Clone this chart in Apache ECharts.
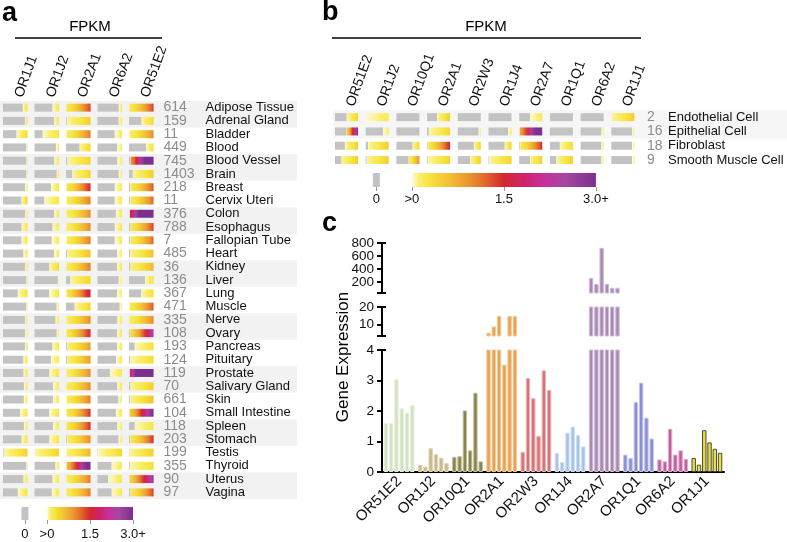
<!DOCTYPE html>
<html>
<head>
<meta charset="utf-8">
<script src="https://cdn.jsdelivr.net/npm/echarts@6/dist/echarts.min.js"></script>
<style>
  html, body { margin: 0; padding: 0; background: #fff; }
  #chart { width: 787px; height: 542px; }
</style>
</head>
<body>
<div id="chart"></div>
<script>
// ---- panel a: tissues ----
const aGenes = ['OR1J1', 'OR1J2', 'OR2A1', 'OR6A2', 'OR51E2'];
const aTissues = ['Adipose Tissue', 'Adrenal Gland', 'Bladder', 'Blood', 'Blood Vessel', 'Brain', 'Breast',
  'Cervix Uteri', 'Colon', 'Esophagus', 'Fallopian Tube', 'Heart', 'Kidney', 'Liver', 'Lung', 'Muscle',
  'Nerve', 'Ovary', 'Pancreas', 'Pituitary', 'Prostate', 'Salivary Gland', 'Skin', 'Small Intestine',
  'Spleen', 'Stomach', 'Testis', 'Thyroid', 'Uterus', 'Vagina'];
const aSamples = [614, 159, 11, 449, 745, 1403, 218, 11, 376, 788, 7, 485, 36, 136, 367, 471, 335, 108,
  193, 124, 119, 70, 661, 104, 118, 203, 199, 355, 90, 97];
// share of samples at 0 FPKM (grey part), one list per gene
const aZero = [
  [0.8, 0.9, 0.55, 0.95, 0.95, 0.95, 0.9, 0.75, 0.9, 0.75, 0.75, 0.83, 0.9, 0.95, 0.6, 0.95, 0.9, 0.9, 0.9, 0.83, 0.83, 0.85, 0.85, 0.7, 0.85, 0.75, 0.03, 0.95, 0.83, 0.6],
  [0.73, 0.8, 0.33, 0.87, 0.8, 0.9, 0.67, 0.4, 0.8, 0.73, 0.7, 0.8, 0.6, 0.95, 0.6, 0.9, 0.85, 0.9, 0.73, 0.67, 0.6, 0.75, 0.75, 0.6, 0.75, 0.6, 0, 0.85, 0.73, 0.7],
  [0, 0.03, 0, 0.55, 0.05, 0.25, 0, 0, 0, 0, 0, 0.05, 0, 0.17, 0, 0.35, 0, 0, 0.05, 0.05, 0, 0, 0, 0, 0, 0.03, 0, 0, 0, 0],
  [0.86, 0.86, 0.7, 0.8, 0.8, 0.86, 0.7, 0.7, 0.75, 0.7, 0.7, 0.8, 0.8, 0.86, 0.8, 0.9, 0.8, 0.8, 0.8, 0.75, 0.5, 0.8, 0.85, 0.75, 0.8, 0.85, 0.02, 0.57, 0.43, 0.57],
  [0, 0.5, 0, 0.7, 0.05, 0.15, 0.05, 0.05, 0.02, 0.05, 0.05, 0.05, 0.05, 0.65, 0.5, 0, 0, 0.05, 0.23, 0.05, 0.02, 0.05, 0.05, 0, 0.23, 0.05, 0.02, 0.03, 0, 0.05]
];
// highest FPKM reached in each cell
const aMax = [
  [0.3, 0.3, 0.35, 0.2, 0.2, 0.15, 0.2, 0.45, 0.2, 0.25, 0.25, 0.2, 0.25, 0.2, 0.3, 0.15, 0.2, 0.2, 0.3, 0.25, 0.25, 0.2, 0.2, 0.25, 0.2, 0.25, 0.45, 0.2, 0.25, 0.25],
  [0.25, 0.25, 0.3, 0.2, 0.2, 0.2, 0.25, 0.25, 0.2, 0.2, 0.2, 0.2, 0.4, 0.15, 0.25, 0.15, 0.2, 0.15, 0.25, 0.2, 0.25, 0.2, 0.2, 0.25, 0.2, 0.25, 0.45, 0.2, 0.2, 0.2],
  [1.4, 0.5, 1.1, 0.45, 0.45, 0.45, 1.6, 1.1, 1.0, 1.0, 1.1, 0.6, 1.1, 0.45, 1.8, 0.45, 1.0, 1.6, 0.9, 0.9, 1.0, 1.0, 1.1, 1.5, 1.5, 1.0, 0.7, 4, 1.1, 1.1],
  [0.2, 0.2, 0.2, 0.15, 0.15, 0.15, 0.2, 0.2, 0.2, 0.2, 0.2, 0.15, 0.2, 0.15, 0.15, 0.15, 0.2, 0.2, 0.2, 0.2, 0.2, 0.2, 0.15, 0.2, 0.15, 0.15, 0.4, 0.2, 0.2, 0.2],
  [1.4, 0.4, 1.0, 0.35, 6, 0.5, 1.3, 1.2, 10, 1.4, 1.2, 0.6, 0.7, 0.3, 0.35, 1.3, 1.0, 2.5, 0.3, 0.35, 12, 0.5, 0.6, 3.3, 0.25, 1.5, 0.5, 0.35, 2.8, 1.4]
];

// ---- panel b: cell types ----
const bGenes = ['OR51E2', 'OR1J2', 'OR10Q1', 'OR2A1', 'OR2W3', 'OR1J4', 'OR2A7', 'OR1Q1', 'OR6A2', 'OR1J1'];
const bCells = ['Endothelial Cell', 'Epithelial Cell', 'Fibroblast', 'Smooth Muscle Cell'];
const bSamples = [2, 16, 18, 9];
const bZero = [
  [0.5, 0.5, 0.43, 0.28], [0, 0.75, 0.1, 0.04], [1, 1, 0.7, 0.53], [0.43, 0.07, 0.03, 0.03],
  [1, 0.9, 0.7, 0.54], [1, 0.85, 0.7, 0.03], [0.47, 0, 0.03, 0.47], [1, 1, 0.43, 0.28],
  [1, 0.9, 0.9, 0.9], [0, 0.9, 0.9, 0.9]
];
const bMax = [
  [0.45, 3.2, 0.5, 0.5], [0.2, 0.15, 0.5, 0.5], [0, 0, 0.45, 1.0], [0.5, 0.4, 1.6, 0.45],
  [0, 0.15, 0.45, 0.5], [0, 0.15, 0.45, 0.45], [0.2, 5, 1.5, 0.5], [0, 0, 0.4, 0.5],
  [0, 0.15, 0.15, 0.15], [0.5, 0.15, 0.15, 0.15]
];

// colour scale legend
const cbLabels = ['0', '>0', '1.5', '3.0+'];
const cbTicksA = [-0.77, 0, 1.5, 3];
const cbTicksB = [-0.58, 0, 1.5, 3];

// ---- panel c: gene expression, 6 samples per gene ----
const cGenes = ['OR51E2', 'OR1J2', 'OR10Q1', 'OR2A1', 'OR2W3', 'OR1J4', 'OR2A7', 'OR1Q1', 'OR6A2', 'OR1J1'];
const cValues = [
  [1.6, 1.6, 3.05, 2.09, 1.95, 2.19],
  [0.24, 0.18, 0.78, 0.59, 0.47, 0.29],
  [0.5, 0.52, 2.02, 0.71, 2.6, 0.35],
  [5.5, 9, 15, 3.52, 15, 15],
  [0.66, 3.08, 2.42, 1.18, 3.33, 2.69],
  [0.63, 0.33, 1.29, 1.49, 1.21, 0.84],
  [262, 170, 725, 170, 110, 110],
  [0.57, 0.46, 2.29, 2.93, 1.78, 1.10],
  [0.41, 0.35, 1.42, 0.57, 0.71, 0.43],
  [0.46, 0.24, 1.37, 0.97, 0.76, 0.63]
];
const cColors = ['#d3e2c0', '#c9ba86', '#8a834d', '#e9a24e', '#d87277', '#a6c3e8', '#a989b6', '#8a8ed2', '#c05fa1', '#ebe02e'];
const cBorders = ['#e9f0e0', '#e0d6bd', '#c4c1a0', '#f0cc9f', '#e8b6b9', '#d3e1f2', '#cdbdd6', '#c4c6e8', '#ddaccb', '#4a4a4a'];

const FONT = '"Liberation Sans", Arial, sans-serif';
const GREY = '#c3c3c3';

// colour ramp used by the heat cells
const rampVals = [0, 0.12, 0.3, 0.55, 0.85, 1.15, 1.5, 1.85, 2.15, 2.5, 3];
const rampCols = ['#fffbe0', '#f9ee6a', '#f7e23a', '#f3c634', '#eda032', '#e4702c', '#d3282e', '#d0216e', '#c8309a', '#a5489f', '#7b2f8f'];

function mix(a, b, t) {
  const pa = [1, 3, 5].map((i) => parseInt(a.substr(i, 2), 16));
  const pb = [1, 3, 5].map((i) => parseInt(b.substr(i, 2), 16));
  return 'rgb(' + pa.map((v, j) => Math.round(v + (pb[j] - v) * t)).join(',') + ')';
}

function fpkmColor(v) {
  v = Math.max(0, Math.min(3, v));
  for (let i = 1; i < rampVals.length; i++) {
    if (v <= rampVals[i]) {
      return mix(rampCols[i - 1], rampCols[i], (v - rampVals[i - 1]) / (rampVals[i] - rampVals[i - 1]));
    }
  }
  return rampCols[rampCols.length - 1];
}

function cellFill(hi) {
  const stops = [];
  for (let k = 0; k <= 8; k++) {
    const t = k / 8;
    stops.push({ offset: t, color: fpkmColor(hi * (0.15 + 0.85 * Math.pow(t, 1.5))) });
  }
  return { type: 'linear', x: 0, y: 0, x2: 1, y2: 0, colorStops: stops };
}

function cellRenderer(widthShare) {
  return function (params, api) {
    const c = api.coord([api.value(0), api.value(1)]);
    const band = api.size([1, 1]);
    const w = band[0] * widthShare;
    const h = 8;
    const x = c[0] - band[0] / 2;
    const y = c[1] - h / 2;
    const zero = api.value(2);
    const gw = w * zero;
    const children = [];
    if (gw > 0) {
      children.push({ type: 'rect', shape: { x: x, y: y, width: gw, height: h }, style: { fill: GREY } });
    }
    if (zero < 1) {
      children.push({ type: 'rect', shape: { x: x + gw + 0.5, y: y, width: w - gw - 0.5, height: h },
        style: { fill: cellFill(api.value(3)) } });
    }
    return { type: 'group', children: children };
  };
}

function colorbarRenderer(ticks) {
  return function (params, api) {
    const p0 = api.coord([0, 0.5]);
    const p3 = api.coord([3, 0.5]);
    const pg = api.coord([ticks[0], 0.5]);
    const h = api.size([0, 1])[1];
    return {
      type: 'group',
      children: [
        { type: 'rect', shape: { x: pg[0] - 3.5, y: pg[1] - h / 2, width: 7, height: h }, style: { fill: GREY } },
        { type: 'rect', shape: { x: p0[0], y: p0[1] - h / 2, width: p3[0] - p0[0], height: h },
          style: { fill: { type: 'linear', x: 0, y: 0, x2: 1, y2: 0,
            colorStops: rampVals.map((v, i) => ({ offset: v / 3, color: rampCols[i] })) } } }
      ]
    };
  };
}

function cellData(zero, max) {
  const out = [];
  zero.forEach((col, g) => col.forEach((z, r) => out.push([g, r, z, max[g][r]])));
  return out;
}

const geneAxis = (grid, genes) => ({
  gridIndex: grid, type: 'category', data: genes, position: 'top',
  axisLine: { show: false }, axisTick: { show: false },
  axisLabel: { rotate: -70, interval: 0, margin: 4, fontSize: 14, color: '#111', fontFamily: FONT }
});

const cbAxis = (grid, ticks, min, margin) => ({
  gridIndex: grid, type: 'value', min: min, max: 3,
  axisLine: { show: false }, splitLine: { show: false },
  axisTick: { customValues: ticks, length: 4, lineStyle: { color: '#999' } },
  axisLabel: { customValues: ticks, margin: margin, fontSize: 13, color: '#111', fontFamily: FONT,
    formatter: (v) => cbLabels[ticks.indexOf(v)] }
});

const rowAxis = (grid, rows, offset, formatter, color, size, margin) => ({
  gridIndex: grid, type: 'category', data: rows, inverse: true, position: 'right', offset: offset,
  axisLine: { show: false }, axisTick: { show: false },
  axisLabel: { interval: 0, margin: margin, fontSize: size, color: color, fontFamily: FONT, formatter: formatter }
});

const stripeAxis = (grid, rows, shade) => ({
  gridIndex: grid, type: 'category', data: rows, inverse: true,
  axisLine: { show: false }, axisTick: { show: false }, axisLabel: { show: false },
  splitArea: { show: true, areaStyle: { color: [shade, 'rgba(255,255,255,0)'] } }
});

const blackLine = { color: '#000', width: 2 };
const segLabel = (labels) => ({ fontSize: 13.5, color: '#111', fontFamily: FONT, margin: 8,
  customValues: labels, showMinLabel: true, showMaxLabel: true, hideOverlap: false });
const segAxis = (grid, min, max, ticks, labels, interval) => ({
  gridIndex: grid, type: 'value', min: min, max: max, position: 'left', interval: interval,
  axisLine: { show: true, lineStyle: blackLine },
  axisTick: { show: true, length: 5, lineStyle: blackLine, customValues: ticks },
  axisLabel: segLabel(labels),
  splitLine: { show: false }
});
// second axis on the same line: end caps pointing inwards, plus labels that would collide
const capAxis = (grid, min, max, caps, labels) => ({
  gridIndex: grid, type: 'value', min: min, max: max, position: 'left',
  axisLine: { show: false }, splitLine: { show: false },
  axisLabel: labels ? segLabel(labels) : { show: false },
  axisTick: { show: true, inside: true, length: 4, lineStyle: blackLine, customValues: caps }
});

const barSeries = [];
[4, 5, 6].forEach((grid, gi) => {
  for (let k = 0; k < 6; k++) {
    barSeries.push({
      type: 'bar', xAxisIndex: grid, yAxisIndex: [6, 8, 10][gi], barWidth: 4.4, barGap: '20%', clip: true,
      data: cValues.map((vals, i) => ({ value: vals[k],
        itemStyle: { color: cColors[i], borderColor: cBorders[i], borderWidth: 1 } }))
    });
  }
});

const textEl = (left, top, text, font) => ({ type: 'text', left: left, top: top,
  style: { text: text, font: font, fill: '#000' } });

const chart = echarts.init(document.getElementById('chart'));
chart.setOption({
  animation: false,
  textStyle: { fontFamily: FONT },
  grid: [
    { left: 3, top: 101, width: 157.5, height: 398 },   // 0 a cells
    { left: 335, top: 110, width: 307, height: 57.2 },  // 1 b cells
    { left: 21.2, top: 507, width: 111.8, height: 13 }, // 2 a legend
    { left: 369, top: 173, width: 226.9, height: 14 },  // 3 b legend
    { left: 382, top: 243, width: 342, height: 50 },    // 4 c top
    { left: 382, top: 307, width: 342, height: 29 },    // 5 c middle
    { left: 382, top: 350, width: 342, height: 122 },   // 6 c bottom
    { left: 0, top: 101, width: 297, height: 398 },     // 7 a stripes
    { left: 333, top: 110, width: 454, height: 57.2 }   // 8 b stripes
  ],
  xAxis: [
    geneAxis(0, aGenes),
    geneAxis(1, bGenes),
    cbAxis(2, cbTicksA, -0.9, 8),
    cbAxis(3, cbTicksB, -0.7, 6),
    { gridIndex: 4, type: 'category', data: cGenes, show: false },
    { gridIndex: 5, type: 'category', data: cGenes, show: false },
    { gridIndex: 6, type: 'category', data: cGenes,
      axisLine: { lineStyle: blackLine },
      axisTick: { alignWithLabel: true, length: 5, lineStyle: blackLine },
      axisLabel: { rotate: 45, interval: 0, fontSize: 15, color: '#111', margin: 7, fontFamily: FONT } },
    { gridIndex: 7, type: 'value', show: false },
    { gridIndex: 8, type: 'value', show: false }
  ],
  yAxis: [
    rowAxis(0, aTissues, 0, (v, i) => String(aSamples[i]), '#8c8c8c', 14, 3),
    rowAxis(0, aTissues, 42, (v) => v, '#111', 13, 3),
    rowAxis(1, bCells, 0, (v, i) => String(bSamples[i]), '#8c8c8c', 14, 5),
    rowAxis(1, bCells, 21, (v) => v, '#111', 13, 5),
    { gridIndex: 2, type: 'value', min: 0, max: 1, show: false },
    { gridIndex: 3, type: 'value', min: 0, max: 1, show: false },
    segAxis(4, 30, 800, [30, 200, 400, 600, 800], [200, 600]),
    capAxis(4, 30, 800, [30, 800], [400, 800]),
    segAxis(5, 3.6, 20, [3.6, 10, 20], [10, 20]),
    capAxis(5, 3.6, 20, [3.6, 20]),
    segAxis(6, 0, 4, undefined, undefined, 1),
    capAxis(6, 0, 4, [4]),
    stripeAxis(7, aTissues, '#f2f2f2'),
    stripeAxis(8, bCells, '#f6f6f6')
  ],
  graphic: [
    textEl(2, 0, 'a', 'bold 27px ' + FONT),
    textEl(322, -1, 'b', 'bold 27px ' + FONT),
    textEl(322, 210, 'c', 'bold 27px ' + FONT),
    { type: 'text', x: 90, y: 27, style: { text: 'FPKM', font: '15px ' + FONT, fill: '#000', align: 'center', verticalAlign: 'middle' } },
    { type: 'text', x: 486, y: 27, style: { text: 'FPKM', font: '15px ' + FONT, fill: '#000', align: 'center', verticalAlign: 'middle' } },
    { type: 'line', shape: { x1: 15, y1: 38, x2: 162, y2: 38 }, style: { stroke: '#000', lineWidth: 1.5 } },
    { type: 'line', shape: { x1: 332, y1: 38, x2: 641, y2: 38 }, style: { stroke: '#000', lineWidth: 1.5 } },
    { type: 'text', x: 343, y: 357, rotation: Math.PI / 2,
      style: { text: 'Gene Expression', font: '17px ' + FONT, fill: '#000', align: 'center', verticalAlign: 'middle' } }
  ],
  series: [
    { type: 'custom', xAxisIndex: 0, yAxisIndex: 0, encode: { x: 0, y: 1 },
      renderItem: cellRenderer(0.78), data: cellData(aZero, aMax) },
    { type: 'custom', xAxisIndex: 1, yAxisIndex: 2, encode: { x: 0, y: 1 },
      renderItem: cellRenderer(0.75), data: cellData(bZero, bMax) },
    { type: 'custom', xAxisIndex: 2, yAxisIndex: 4, encode: { x: 0, y: 1 },
      renderItem: colorbarRenderer(cbTicksA), data: [[0, 0.5]] },
    { type: 'custom', xAxisIndex: 3, yAxisIndex: 5, encode: { x: 0, y: 1 },
      renderItem: colorbarRenderer(cbTicksB), data: [[0, 0.5]] }
  ].concat(barSeries)
});
</script>
</body>
</html>
